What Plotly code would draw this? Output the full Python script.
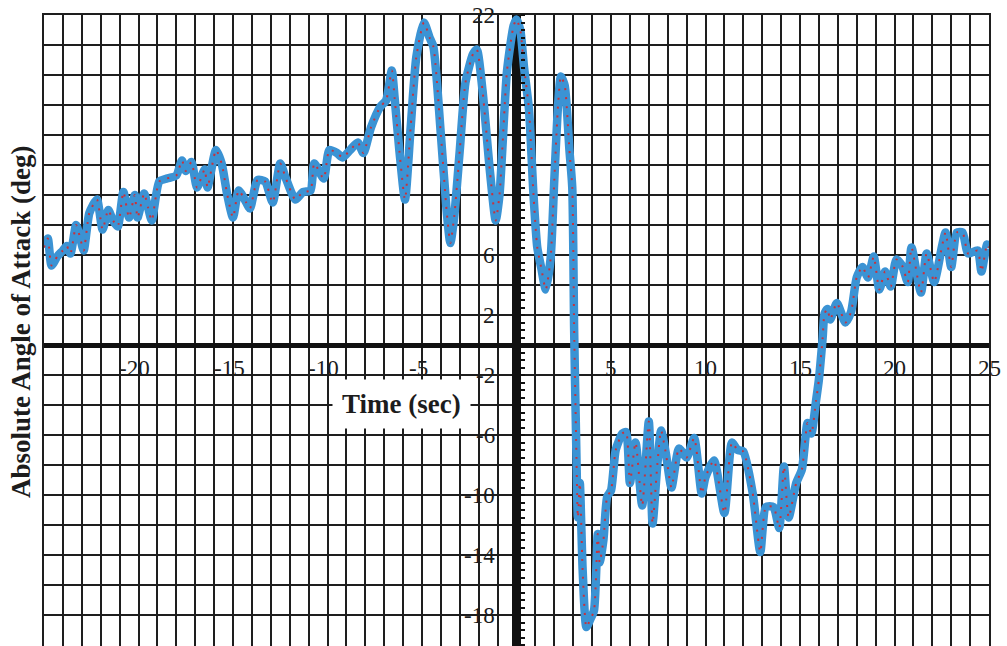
import plotly.graph_objects as go

# Time (s) and absolute angle of attack (deg)
time_s = [
    -25.0, -24.8, -24.6, -24.3, -24.0, -23.8, -23.6, -23.3, -23.1, -22.9,
    -22.6, -22.2, -21.9, -21.6, -21.35, -21.1, -20.8, -20.5, -20.2, -20.05,
    -19.7, -19.5, -19.3, -18.9, -18.5, -18.0, -17.7, -17.5, -17.2, -16.9,
    -16.5, -16.35, -15.9, -15.6, -15.3, -15.0, -14.7, -14.3, -14.1, -13.7,
    -13.3, -12.9, -12.5, -12.2, -11.7, -11.3, -10.9, -10.7, -10.2, -9.9,
    -9.5, -9.2, -8.8, -8.4, -8.1, -7.7, -7.2, -6.9, -6.6, -6.45,
    -6.2, -5.9, -5.6, -5.3, -4.9, -4.6, -4.4, -4.0, -3.7, -3.5,
    -3.3, -3.0, -2.7, -2.3, -2.1, -1.8, -1.4, -1.1, -0.9, -0.5,
    -0.15, 0.0, 0.2, 0.4, 0.66, 0.9, 1.1, 1.3, 1.55, 1.8,
    2.0, 2.2, 2.35, 2.55, 2.8, 2.95, 3.05, 3.15, 3.25, 3.35,
    3.5, 3.7, 3.9, 4.1, 4.3, 4.4, 4.6, 4.8, 5.0, 5.25,
    5.6, 5.8, 6.0, 6.3, 6.65, 7.0, 7.2, 7.45, 7.65, 7.9,
    8.2, 8.6, 9.0, 9.4, 9.8, 10.0, 10.45, 11.0, 11.4, 11.7,
    12.0, 12.5, 12.9, 13.2, 13.6, 13.9, 14.15, 14.4, 14.8, 15.1,
    15.4, 15.6, 15.85, 16.0, 16.2, 16.3, 16.45, 16.6, 16.95, 17.4,
    17.7, 18.0, 18.3, 18.6, 18.9, 19.2, 19.5, 19.8, 20.1, 20.4,
    20.7, 20.9, 21.4, 21.7, 22.1, 22.5, 22.7, 23.0, 23.3, 23.6,
    23.9, 24.4, 24.6, 24.9, 25.0,
]
aoa_deg = [
    6.5, 7.1, 5.3, 5.9, 6.3, 6.6, 6.1, 8.0, 7.2, 6.3,
    8.8, 9.7, 7.7, 9.0, 8.3, 7.9, 10.2, 8.5, 10.0, 8.5,
    10.1, 9.2, 8.3, 10.9, 11.1, 11.3, 12.3, 11.6, 12.2, 10.5,
    11.7, 10.5, 13.0, 12.1, 10.0, 8.5, 10.3, 9.5, 9.1, 11.0,
    10.9, 9.5, 12.1, 11.1, 9.7, 10.2, 10.3, 12.1, 11.1, 13.0,
    12.8, 12.5, 13.0, 13.5, 12.8, 14.5, 15.9, 16.3, 18.3, 16.5,
    13.0, 9.7, 14.5, 19.2, 21.5, 20.5, 19.9, 14.0, 9.0, 6.8,
    8.5, 13.0, 17.5, 19.4, 19.7, 17.0, 11.5, 8.3, 10.0, 18.3,
    21.3, 21.7, 21.0, 18.5, 15.7, 10.0, 6.5, 5.2, 3.7, 5.7,
    11.0, 16.0, 17.9, 17.3, 13.0, 10.5, 1.0, -6.0, -11.5, -9.2,
    -15.0, -18.8, -18.3, -17.7, -12.6, -14.5, -13.0, -10.1, -9.7, -7.0,
    -5.9, -5.8, -9.2, -6.5, -10.7, -5.1, -11.9, -8.0, -5.7, -7.2,
    -9.5, -6.9, -7.5, -6.2, -9.9, -8.8, -7.7, -11.2, -6.5, -7.0,
    -7.1, -9.9, -13.8, -10.8, -10.8, -12.2, -8.1, -11.5, -9.2, -8.3,
    -5.2, -5.9, -3.7, -2.3, 0.5, 2.1, 2.4, 1.7, 2.8, 1.5,
    2.2, 4.5, 5.2, 4.5, 5.9, 3.7, 4.9, 3.9, 5.7, 5.3,
    4.2, 6.5, 3.5, 6.1, 4.2, 6.5, 7.5, 5.2, 7.5, 7.5,
    6.1, 6.3, 4.9, 6.7, 6.5,
]

x_tick_labels = [-20, -15, -10, -5, 5, 10, 15, 20, 25]
y_tick_labels = [22, 6, 2, -2, -6, -10, -14, -18]

serif = "Liberation Serif, Times New Roman, serif"
ink = "#1c1c1c"
x_range = [-25, 25]
y_range = [22 - 631 / 15, 22]

fig = go.Figure()
# wide blue trace with a sparse red dotted line running along it
fig.add_trace(go.Scatter(
    x=time_s, y=aoa_deg, mode="lines",
    line=dict(color="#3b93d4", width=8.5, shape="spline", smoothing=0.6),
    hoverinfo="skip", showlegend=False,
))
fig.add_trace(go.Scatter(
    x=time_s, y=aoa_deg, mode="lines", yaxis="y2",
    line=dict(color="#c8323c", width=2, dash="2px,7px", shape="spline", smoothing=0.6),
    showlegend=False,
))

annotations = []
for v in x_tick_labels:
    annotations.append(dict(
        x=v, y=-1.55, xref="x", yref="y", text=str(v), showarrow=False,
        xanchor="center", yanchor="middle", xshift=-4 if v < 0 else 0,
        font=dict(family=serif, size=23, color=ink),
    ))
for v in y_tick_labels:
    annotations.append(dict(
        x=0, y=v, xref="x", yref="y", text=str(v), showarrow=False,
        xanchor="right", yanchor="middle", xshift=-20,
        font=dict(family=serif, size=23, color=ink),
    ))
# axis titles
annotations.append(dict(
    x=-6.1, y=-3.95, xref="x", yref="y", text="<b>Time (sec)</b>", showarrow=False,
    xanchor="center", yanchor="middle", bgcolor="white", borderpad=9,
    font=dict(family=serif, size=27, color=ink),
))
annotations.append(dict(
    x=0, y=(646 - 322) / 631, xref="paper", yref="paper",
    text="<b>Absolute Angle of Attack (deg)</b>", showarrow=False, textangle=-90,
    xanchor="center", yanchor="middle", xshift=-23,
    font=dict(family=serif, size=27, color=ink),
))

fig.update_layout(
    width=1007, height=646,
    margin=dict(l=44, r=18, t=15, b=0),
    paper_bgcolor="white", plot_bgcolor="white",
    annotations=annotations,
    xaxis=dict(
        range=x_range, dtick=1, tick0=0, showgrid=True,
        gridcolor="#1e1e1e", gridwidth=1.7,
        zeroline=True, zerolinecolor="#111", zerolinewidth=9,
        showline=True, mirror=True, linecolor="#1e1e1e", linewidth=1.7,
        showticklabels=False, ticks="",
    ),
    yaxis=dict(
        range=y_range, dtick=2, tick0=0, showgrid=True,
        gridcolor="#1e1e1e", gridwidth=1.7,
        zeroline=True, zerolinecolor="#111", zerolinewidth=5,
        showline=True, mirror=True, linecolor="#1e1e1e", linewidth=1.7,
        showticklabels=False, ticks="",
    ),
    # vertical axis through t = 0 carrying the small half-degree notches
    yaxis2=dict(
        range=y_range, overlaying="y", anchor="free",
        position=(0 - x_range[0]) / (x_range[1] - x_range[0]) + 3.5 / 945,
        side="right", showgrid=False, zeroline=False,
        showline=False, showticklabels=False,
        ticks="outside", dtick=0.5, tick0=0, ticklen=4, tickwidth=1.5,
        tickcolor="#111",
    ),
)

fig.write_html("out.html")
